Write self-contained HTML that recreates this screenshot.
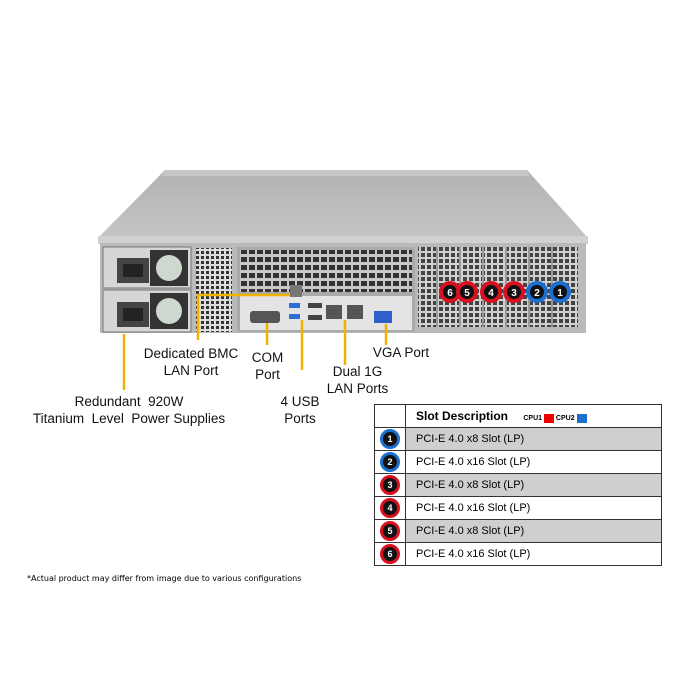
<!DOCTYPE html>
<html><head><style>
body{margin:0;background:#fff;width:700px;height:700px;overflow:hidden;position:relative;font-family:"Liberation Sans",sans-serif}
.l{position:absolute;font-size:13.5px;color:#111;text-align:center;line-height:17px;white-space:nowrap}
table{position:absolute;left:374px;top:404px;border-collapse:collapse;font-size:11px}
td{border:1px solid #333;height:22px;padding:0}
</style></head><body>
<svg width="700" height="700" style="position:absolute;left:0;top:0">
<defs>
<pattern id="g" width="5" height="5" patternUnits="userSpaceOnUse"><rect width="5" height="5" fill="#ddd"/><rect x="1" y="1" width="3" height="3" fill="#333"/></pattern>
<pattern id="g2" width="8" height="8" patternUnits="userSpaceOnUse"><rect width="8" height="8" fill="#c8c8c8"/><rect x="1" y="1" width="6" height="5" fill="#333"/></pattern>
<pattern id="g3" width="6" height="6" patternUnits="userSpaceOnUse"><rect width="6" height="6" fill="#d0d0d0"/><rect x="1" y="1" width="4" height="4" fill="#444"/></pattern>
<linearGradient id="tg" x1="0" y1="0" x2="0" y2="1"><stop offset="0" stop-color="#b0b2b4"/><stop offset="1" stop-color="#c2c4c6"/></linearGradient>
</defs>
<polygon points="165,170 527,170 588,238 98,238" fill="url(#tg)"/>
<polygon points="165,170 527,170 530,176 162,176" fill="#c4c6c8"/>
<rect x="98" y="236" width="490" height="8" fill="#cfd1d3"/>
<rect x="100" y="243" width="486" height="90" fill="#b8babc"/>
<rect x="103" y="247" width="88" height="41" fill="#d6d6d6" stroke="#777"/>
<rect x="103" y="290" width="88" height="42" fill="#d6d6d6" stroke="#777"/>
<rect x="117" y="258" width="32" height="25" fill="#444"/>
<rect x="117" y="302" width="32" height="25" fill="#444"/>
<rect x="123" y="264" width="20" height="13" fill="#222"/>
<rect x="123" y="308" width="20" height="13" fill="#222"/>
<rect x="150" y="250" width="38" height="36" fill="#333"/>
<rect x="150" y="293" width="38" height="36" fill="#333"/>
<circle cx="169" cy="268" r="13" fill="#cfd8cf"/>
<circle cx="169" cy="311" r="13" fill="#cfd8cf"/>
<rect x="196" y="248" width="36" height="84" fill="url(#g)"/>
<rect x="237" y="247" width="178" height="85" fill="#a8aaac"/>
<rect x="240" y="250" width="172" height="42" fill="url(#g2)"/>
<rect x="240" y="296" width="172" height="34" fill="#e4e4e4"/>
<rect x="250" y="311" width="30" height="12" rx="3" fill="#555"/>
<rect x="290" y="285" width="12" height="12" fill="#777"/>
<rect x="289" y="303" width="11" height="5" fill="#2a6fd6"/>
<rect x="289" y="314" width="11" height="5" fill="#2a6fd6"/>
<rect x="308" y="303" width="14" height="5" fill="#444"/>
<rect x="308" y="315" width="14" height="5" fill="#444"/>
<rect x="326" y="305" width="16" height="14" fill="#555"/>
<rect x="347" y="305" width="16" height="14" fill="#555"/>
<rect x="374" y="311" width="18" height="12" fill="#2f5fc8"/>
<rect x="418" y="247" width="160" height="80" fill="url(#g3)"/>
<g stroke="#999" stroke-width="2">
<line x1="437" y1="247" x2="437" y2="327"/><line x1="460" y1="247" x2="460" y2="327"/><line x1="483" y1="247" x2="483" y2="327"/><line x1="506" y1="247" x2="506" y2="327"/><line x1="529" y1="247" x2="529" y2="327"/><line x1="552" y1="247" x2="552" y2="327"/>
</g>
<g font-family="Liberation Sans" font-weight="bold" font-size="10" fill="#fff" text-anchor="middle">
<circle cx="450" cy="292" r="9" fill="#111" stroke="#d81020" stroke-width="4"/><text x="450" y="296">6</text>
<circle cx="467" cy="292" r="9" fill="#111" stroke="#d81020" stroke-width="4"/><text x="467" y="296">5</text>
<circle cx="491" cy="292" r="9" fill="#111" stroke="#d81020" stroke-width="4"/><text x="491" y="296">4</text>
<circle cx="514" cy="292" r="9" fill="#111" stroke="#d81020" stroke-width="4"/><text x="514" y="296">3</text>
<circle cx="537" cy="292" r="9" fill="#111" stroke="#1a6fd0" stroke-width="4"/><text x="537" y="296">2</text>
<circle cx="560" cy="292" r="9" fill="#111" stroke="#1a6fd0" stroke-width="4"/><text x="560" y="296">1</text>
</g>
<g stroke="#f0b400" stroke-width="2.5" fill="none">
<line x1="124" y1="334" x2="124" y2="390"/>
<polyline points="290,295 198,295 198,340"/>
<line x1="267" y1="323" x2="267" y2="345"/>
<line x1="302" y1="320" x2="302" y2="370"/>
<line x1="345" y1="320" x2="345" y2="365"/>
<line x1="386" y1="324" x2="386" y2="345"/>
</g>
</svg>
<div class="l" style="left:131px;top:345px;width:120px">Dedicated BMC<br>LAN Port</div>
<div class="l" style="left:240px;top:349px;width:55px">COM<br>Port</div>
<div class="l" style="left:361px;top:344px;width:80px">VGA Port</div>
<div class="l" style="left:315px;top:363px;width:85px">Dual 1G<br>LAN Ports</div>
<div class="l" style="left:265px;top:393px;width:70px">4 USB<br>Ports</div>
<div class="l" style="left:29px;top:393px;width:200px">Redundant &nbsp;920W<br>Titanium &nbsp;Level &nbsp;Power Supplies</div>
<div style="position:absolute;left:27px;top:574px;font-size:8px;font-family:'DejaVu Sans',sans-serif">*Actual product may differ from image due to various configurations</div>
<table>
<tr><td style="width:30px;height:18px"></td><td style="width:245px;padding-left:10px;font-weight:bold;font-size:12px">Slot Description <span style="font-size:7px;margin-left:12px">CPU1 <span style="display:inline-block;width:10px;height:9px;background:#e00;vertical-align:middle"></span> CPU2 <span style="display:inline-block;width:10px;height:9px;background:#1a6fd0;vertical-align:middle"></span></span></td></tr>
<tr style="background:#cfcfcf"><td style="background:#fff;text-align:center"><span style="display:inline-block;width:14px;height:14px;border-radius:50%;background:#111;border:3px solid #1a6fd0;color:#fff;font-size:9px;font-weight:bold;line-height:14px">1</span></td><td style="padding-left:10px">PCI-E 4.0 x8 Slot (LP)</td></tr>
<tr><td style="text-align:center"><span style="display:inline-block;width:14px;height:14px;border-radius:50%;background:#111;border:3px solid #1a6fd0;color:#fff;font-size:9px;font-weight:bold;line-height:14px">2</span></td><td style="padding-left:10px">PCI-E 4.0 x16 Slot (LP)</td></tr>
<tr style="background:#cfcfcf"><td style="background:#fff;text-align:center"><span style="display:inline-block;width:14px;height:14px;border-radius:50%;background:#111;border:3px solid #d81020;color:#fff;font-size:9px;font-weight:bold;line-height:14px">3</span></td><td style="padding-left:10px">PCI-E 4.0 x8 Slot (LP)</td></tr>
<tr><td style="text-align:center"><span style="display:inline-block;width:14px;height:14px;border-radius:50%;background:#111;border:3px solid #d81020;color:#fff;font-size:9px;font-weight:bold;line-height:14px">4</span></td><td style="padding-left:10px">PCI-E 4.0 x16 Slot (LP)</td></tr>
<tr style="background:#cfcfcf"><td style="background:#fff;text-align:center"><span style="display:inline-block;width:14px;height:14px;border-radius:50%;background:#111;border:3px solid #d81020;color:#fff;font-size:9px;font-weight:bold;line-height:14px">5</span></td><td style="padding-left:10px">PCI-E 4.0 x8 Slot (LP)</td></tr>
<tr><td style="text-align:center"><span style="display:inline-block;width:14px;height:14px;border-radius:50%;background:#111;border:3px solid #d81020;color:#fff;font-size:9px;font-weight:bold;line-height:14px">6</span></td><td style="padding-left:10px">PCI-E 4.0 x16 Slot (LP)</td></tr>
</table>
</body></html>
